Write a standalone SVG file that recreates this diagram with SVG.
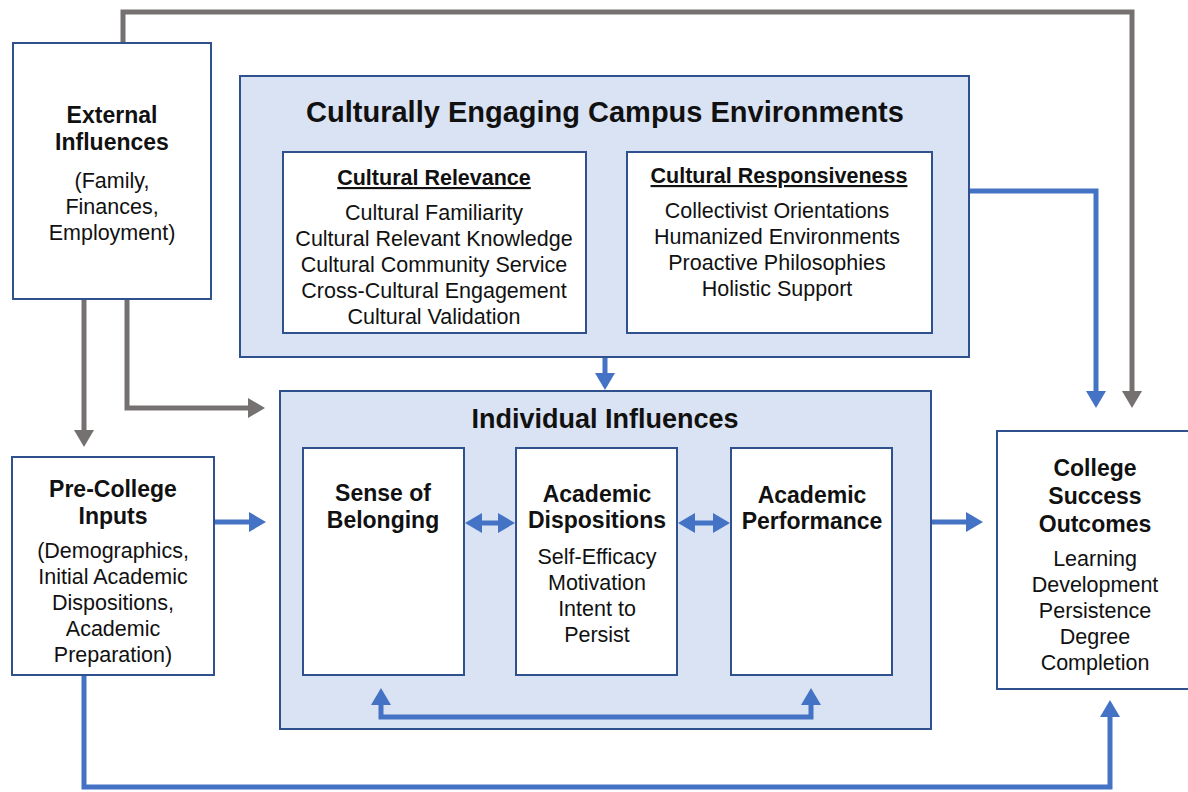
<svg xmlns="http://www.w3.org/2000/svg" width="1188" height="792" viewBox="0 0 1188 792">
  <style>
    text { font-family: "Liberation Sans", Arial, sans-serif; fill: #111; text-anchor: middle; }
    .box { fill: #ffffff; stroke: #2F528F; stroke-width: 2; }
    .panel { fill: #DAE3F3; stroke: #2F528F; stroke-width: 2; }
    .h1 { font-size: 29px; font-weight: bold; }
    .h2 { font-size: 27px; font-weight: bold; }
    .hb { font-size: 23px; font-weight: bold; }
    .hu { font-size: 21.5px; font-weight: bold; text-decoration: underline; }
    .t { font-size: 21.5px; }
    .blue { fill: none; stroke: #4472C4; stroke-width: 5; marker-end: url(#headBlue); }
    .gray { fill: none; stroke: #767171; stroke-width: 5; marker-end: url(#headGray); }
    .both { marker-start: url(#headBlue); }
  </style>
  <defs>
    <marker id="headBlue" viewBox="0 0 17 20" refX="1" refY="10" markerWidth="17" markerHeight="20" markerUnits="userSpaceOnUse" orient="auto-start-reverse">
      <path d="M0,0 L17,10 L0,20 z" fill="#4472C4"/>
    </marker>
    <marker id="headGray" viewBox="0 0 17 20" refX="1" refY="10" markerWidth="17" markerHeight="20" markerUnits="userSpaceOnUse" orient="auto">
      <path d="M0,0 L17,10 L0,20 z" fill="#767171"/>
    </marker>
  </defs>
  <rect width="1188" height="792" fill="#ffffff"/>

  <!-- connectors -->
  <g id="connectors">
    <path class="gray" d="M123,43 V12 H1132 V392"/>
    <path class="gray" d="M84,299 V431"/>
    <path class="gray" d="M127,299 V408 H249"/>
    <path class="blue" d="M605,357 V374"/>
    <path class="blue" d="M214,522 H250"/>
    <path class="blue" d="M931,522 H967"/>
    <path class="blue" d="M969,191 H1096 V392"/>
    <path class="blue" d="M84,675 V787 H1110 V716"/>
  </g>

  <g id="external-influences">
    <rect class="box" x="13" y="43" width="198" height="256"/>
    <text class="hb" x="112" y="123">External</text>
    <text class="hb" x="112" y="150">Influences</text>
    <text class="t" x="112" y="188">(Family,</text>
    <text class="t" x="112" y="214">Finances,</text>
    <text class="t" x="112" y="240">Employment)</text>
  </g>

  <g id="campus-environments">
    <rect class="panel" x="240" y="76" width="729" height="281"/>
    <text class="h1" x="605" y="122">Culturally Engaging Campus Environments</text>
  </g>

  <g id="cultural-relevance">
    <rect class="box" x="283" y="152" width="303" height="181"/>
    <text class="hu" x="434" y="185">Cultural Relevance</text>
    <text class="t" x="434" y="220">Cultural Familiarity</text>
    <text class="t" x="434" y="246">Cultural Relevant Knowledge</text>
    <text class="t" x="434" y="272">Cultural Community Service</text>
    <text class="t" x="434" y="298">Cross-Cultural Engagement</text>
    <text class="t" x="434" y="324">Cultural Validation</text>
  </g>

  <g id="cultural-responsiveness">
    <rect class="box" x="627" y="152" width="305" height="181"/>
    <text class="hu" x="779" y="183">Cultural Responsiveness</text>
    <text class="t" x="777" y="218">Collectivist Orientations</text>
    <text class="t" x="777" y="244">Humanized Environments</text>
    <text class="t" x="777" y="270">Proactive Philosophies</text>
    <text class="t" x="777" y="296">Holistic Support</text>
  </g>

  <g id="pre-college-inputs">
    <rect class="box" x="12" y="457" width="202" height="218"/>
    <text class="hb" x="113" y="497">Pre-College</text>
    <text class="hb" x="113" y="524">Inputs</text>
    <text class="t" x="113" y="558">(Demographics,</text>
    <text class="t" x="113" y="584">Initial Academic</text>
    <text class="t" x="113" y="610">Dispositions,</text>
    <text class="t" x="113" y="636">Academic</text>
    <text class="t" x="113" y="662">Preparation)</text>
  </g>

  <g id="individual-influences">
    <rect class="panel" x="280" y="391" width="651" height="338"/>
    <text class="h2" x="605" y="428">Individual Influences</text>
  </g>

  <g id="sense-of-belonging">
    <rect class="box" x="303" y="448" width="161" height="227"/>
    <text class="hb" x="383" y="501">Sense of</text>
    <text class="hb" x="383" y="528">Belonging</text>
  </g>

  <g id="academic-dispositions">
    <rect class="box" x="516" y="448" width="161" height="227"/>
    <text class="hb" x="597" y="502">Academic</text>
    <text class="hb" x="597" y="528">Dispositions</text>
    <text class="t" x="597" y="564">Self-Efficacy</text>
    <text class="t" x="597" y="590">Motivation</text>
    <text class="t" x="597" y="616">Intent to</text>
    <text class="t" x="597" y="642">Persist</text>
  </g>

  <g id="academic-performance">
    <rect class="box" x="731" y="448" width="161" height="227"/>
    <text class="hb" x="812" y="503">Academic</text>
    <text class="hb" x="812" y="529">Performance</text>
  </g>

  <g id="college-success-outcomes">
    <rect class="box" x="997" y="431" width="195" height="258"/>
    <text class="hb" x="1095" y="476">College</text>
    <text class="hb" x="1095" y="504">Success</text>
    <text class="hb" x="1095" y="532">Outcomes</text>
    <text class="t" x="1095" y="566">Learning</text>
    <text class="t" x="1095" y="592">Development</text>
    <text class="t" x="1095" y="618">Persistence</text>
    <text class="t" x="1095" y="644">Degree</text>
    <text class="t" x="1095" y="670">Completion</text>
  </g>

  <!-- links between the individual influences -->
  <g id="inner-connectors">
    <path class="blue both" d="M481,523 H499"/>
    <path class="blue both" d="M694,523 H714"/>
    <path class="blue both" d="M381,704 V717 H811 V704"/>
  </g>
</svg>
